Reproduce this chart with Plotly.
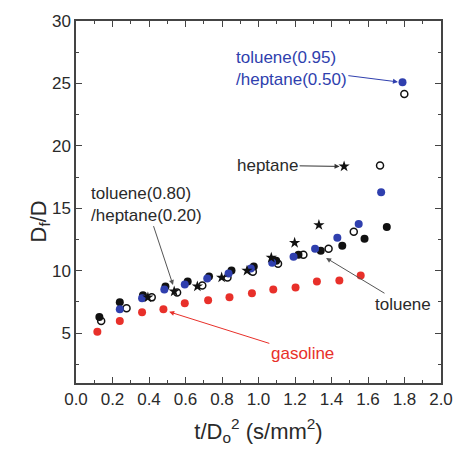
import plotly.graph_objects as go

# gasoline (red filled)
gas_x = [0.117, 0.24, 0.362, 0.479, 0.596, 0.724, 0.841, 0.964, 1.081, 1.203, 1.32, 1.443, 1.56]
gas_y = [5.1, 5.96, 6.67, 6.91, 7.39, 7.63, 7.86, 8.18, 8.5, 8.66, 9.13, 9.21, 9.61]

# toluene (black filled)
tol_x = [0.128, 0.24, 0.367, 0.49, 0.612, 0.729, 0.852, 0.974, 1.097, 1.219, 1.341, 1.459, 1.581, 1.703]
tol_y = [6.28, 7.47, 8.02, 8.74, 9.13, 9.53, 10.01, 10.33, 10.8, 11.28, 11.59, 11.99, 12.55, 13.5]

# toluene(0.95)/heptane(0.50) (blue filled)
b95_x = [0.24, 0.362, 0.484, 0.596, 0.719, 0.836, 0.958, 1.075, 1.192, 1.31, 1.432, 1.549, 1.672, 1.789]
b95_y = [6.91, 7.78, 8.5, 8.9, 9.37, 9.77, 10.17, 10.64, 11.12, 11.76, 12.63, 13.74, 16.28, 25.1]

# toluene(0.80)/heptane(0.20) (open circles)
o80_x = [0.138, 0.277, 0.415, 0.554, 0.692, 0.83, 0.969, 1.107, 1.246, 1.384, 1.522, 1.666, 1.799]
o80_y = [5.96, 6.99, 7.86, 8.25, 8.81, 9.45, 9.92, 10.56, 11.28, 11.76, 13.11, 18.43, 24.15]

# heptane (stars)
hep_x = [0.394, 0.538, 0.665, 0.798, 0.937, 1.07, 1.198, 1.331, 1.469]
hep_y = [7.86, 8.34, 8.74, 9.45, 10.0, 11.04, 12.23, 13.66, 18.35]

RED = "#e8302a"
BLUE = "#2f3fae"
BLACK = "#111111"
TXT = "#2a2a2a"
FONT = "Liberation Sans, Arial, sans-serif"

fig = go.Figure()
fig.add_trace(go.Scatter(x=gas_x, y=gas_y, mode="markers",
                         marker=dict(color=RED, size=8, line=dict(width=0)), name="gasoline"))
fig.add_trace(go.Scatter(x=o80_x, y=o80_y, mode="markers",
                         marker=dict(symbol="circle-open", color=BLACK, size=7, line=dict(width=1.5)),
                         name="toluene(0.80)/heptane(0.20)"))
fig.add_trace(go.Scatter(x=tol_x, y=tol_y, mode="markers",
                         marker=dict(color=BLACK, size=8, line=dict(width=0)), name="toluene"))
fig.add_trace(go.Scatter(x=b95_x, y=b95_y, mode="markers",
                         marker=dict(color=BLUE, size=8, line=dict(width=0)), name="toluene(0.95)/heptane(0.50)"))
fig.add_trace(go.Scatter(x=hep_x, y=hep_y, mode="markers",
                         marker=dict(symbol="star", color=BLACK, size=8.5, line=dict(width=0)), name="heptane"))

def ann(text, x, y, ax, ay, color, lcolor, align="left"):
    fig.add_annotation(text=text, x=x, y=y, ax=ax, ay=ay, xref="x", yref="y",
                       axref="x", ayref="y", showarrow=True, arrowhead=2, arrowsize=1,
                       arrowwidth=1, arrowcolor=lcolor, align=align,
                       font=dict(family=FONT, size=17, color=color), standoff=2)

ann("gasoline", 0.5, 6.75, 1.24, 3.34, RED, RED)
ann("toluene", 1.361, 11.1, 1.79, 7.31, TXT, "#555555")
ann("heptane", 1.455, 18.35, 1.05, 18.43, TXT, "#333333")
ann("toluene(0.95)<br>/heptane(0.50)", 1.775, 25.1, 1.18, 26.2, BLUE, BLUE)
ann("toluene(0.80)<br>/heptane(0.20)", 0.535, 8.7, 0.385, 15.33, TXT, "#555555")

# y-axis title placed close to the tick labels, as in the reference
fig.add_annotation(text="D<sub>f</sub>/D", xref="paper", yref="paper", x=-0.1, y=0.445,
                   xanchor="center", yanchor="middle", textangle=-90, showarrow=False,
                   font=dict(family=FONT, size=22, color=TXT))

axis_common = dict(showline=True, mirror="ticks", linecolor="#444444", linewidth=1.5,
                   ticks="inside", ticklen=6, tickwidth=1.2, tickcolor="#444444",
                   showgrid=False, zeroline=False,
                   tickfont=dict(family=FONT, size=17, color=TXT))

fig.update_xaxes(range=[0, 2.0], dtick=0.2, tick0=0, tickformat=".1f",
                 minor=dict(ticks="inside", ticklen=3, dtick=0.1, tickcolor="#444444"),
                 title=dict(text="t/D<sub>o</sub><sup>2</sup> (s/mm<sup>2</sup>)",
                            font=dict(family=FONT, size=22, color=TXT), standoff=15),
                 **axis_common)
fig.update_yaxes(range=[1, 30], dtick=5, tick0=0,
                 minor=dict(ticks="inside", ticklen=3, dtick=2.5, tickcolor="#444444"),
                 **axis_common)

fig.update_layout(width=465, height=452, margin=dict(l=76, r=13, t=19, b=67),
                  plot_bgcolor="white", paper_bgcolor="white", showlegend=False)

fig.write_html("out.html")
